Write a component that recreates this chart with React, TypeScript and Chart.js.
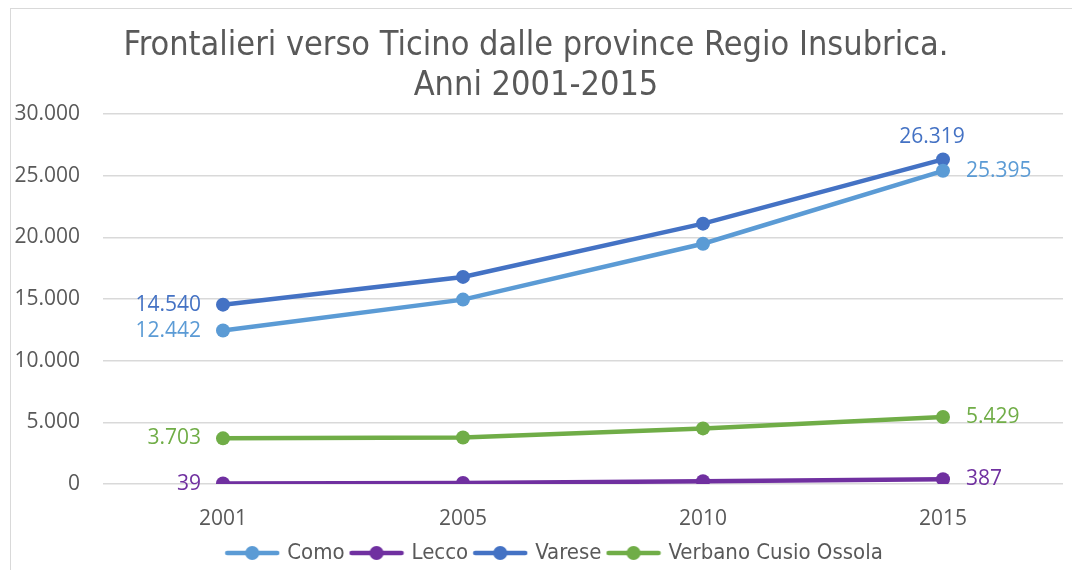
import React, { useEffect, useRef } from "react";
import { Chart, registerables } from "chart.js";

Chart.register(...registerables);

const years = ["2001", "2005", "2010", "2015"];
const seriesNames = ["Como", "Lecco", "Varese", "Verbano Cusio Ossola"];
const como = [12442, 14950, 19480, 25395];
const lecco = [39, 90, 220, 387];
const varese = [14540, 16790, 21110, 26319];
const vco = [3703, 3775, 4510, 5429];
const yTicks = [0, 5000, 10000, 15000, 20000, 25000, 30000];
const colors = ["#5B9BD5", "#7030A0", "#4472C4", "#70AD47"];
const titleLines = ["Frontalieri verso Ticino dalle province Regio Insubrica.", "Anni 2001-2015"];
// where the end labels go: [first point, last point]
const labelPlacement = [
  ["left", "right"],
  ["left", "right"],
  ["left", "top"],
  ["left", "right"],
];

const fmt = (v: number) =>
  String(Math.round(v)).replace(/\B(?=(\d{3})+(?!\d))/g, ".");

const narrowFont = '"Liberation Sans Narrow", "DejaVu Sans Condensed", "Arial Narrow", sans-serif';
const tickFont = '"Open Sans", "Noto Sans", sans-serif';

function makeLegendImg(color: string) {
  const c = document.createElement("canvas");
  c.width = 56;
  c.height = 16;
  const g = c.getContext("2d")!;
  g.strokeStyle = color;
  g.lineWidth = 4.5;
  g.lineCap = "round";
  g.beginPath();
  g.moveTo(3, 8);
  g.lineTo(53, 8);
  g.stroke();
  g.fillStyle = color;
  g.beginPath();
  g.arc(28, 8, 7, 0, Math.PI * 2);
  g.fill();
  return c;
}

// Title drawn centred on the full canvas width, and y tick labels drawn
// from the y scale (so they may extend left of the layout padding)
const textPlugin = {
  id: "titleAndYLabels",
  afterDraw(chart: any) {
    const ctx = chart.ctx;
    ctx.save();
    ctx.font = `34px ${narrowFont}`;
    ctx.fillStyle = "#595959";
    ctx.textAlign = "center";
    ctx.textBaseline = "middle";
    titleLines.forEach((t, i) => {
      ctx.fillText(t, 536, 46 + i * 40);
    });
    const ys = chart.scales.y;
    ctx.font = `21px ${tickFont}`;
    ctx.textAlign = "right";
    yTicks.forEach((v) => {
      ctx.fillText(fmt(v), chart.chartArea.left - 23, ys.getPixelForValue(v));
    });
    ctx.restore();
  },
};

const endLabels = {
  id: "endLabels",
  afterDatasetsDraw(chart: any) {
    const ctx = chart.ctx;
    ctx.save();
    ctx.font = `21px ${tickFont}`;
    chart.data.datasets.forEach((ds: any, i: number) => {
      const meta = chart.getDatasetMeta(i);
      const n = meta.data.length;
      [0, n - 1].forEach((idx, k) => {
        const pt = meta.data[idx];
        const pos = labelPlacement[i][k];
        const text = fmt(ds.data[idx]);
        ctx.fillStyle = colors[i];
        ctx.textBaseline = "middle";
        if (pos === "left") {
          ctx.textAlign = "right";
          ctx.fillText(text, pt.x - 22, pt.y);
        } else if (pos === "right") {
          ctx.textAlign = "left";
          ctx.fillText(text, pt.x + 23, pt.y);
        } else {
          ctx.textAlign = "center";
          ctx.fillText(text, pt.x - 11, pt.y - 22);
        }
      });
    });
    ctx.restore();
  },
};

export default function App() {
  const ref = useRef<HTMLCanvasElement>(null);
  useEffect(() => {
    const imgs = colors.map(makeLegendImg);
    const values = [como, lecco, varese, vco];
    const chart = new Chart(ref.current!, {
      type: "line",
      data: {
        labels: years,
        datasets: seriesNames.map((name, i) => ({
          label: name,
          data: values[i],
          borderColor: colors[i],
          backgroundColor: colors[i],
          borderWidth: 4.5,
          pointRadius: 7,
          pointHoverRadius: 7,
          pointBorderWidth: 0,
          pointBackgroundColor: colors[i],
          tension: 0,
        })),
      },
      options: {
        animation: false,
        responsive: true,
        maintainAspectRatio: false,
        layout: { padding: { left: 48, right: 9, top: 114, bottom: 0 } },
        plugins: {
          title: { display: false },
          legend: {
            position: "bottom",
            labels: {
              usePointStyle: true,
              pointStyleWidth: 48,
              color: "#595959",
              font: { family: narrowFont, size: 22 },
              padding: 8,
              generateLabels(chart: any) {
                const items = Chart.defaults.plugins.legend.labels.generateLabels(chart);
                items.forEach((it: any, i: number) => {
                  it.pointStyle = imgs[i];
                });
                return items;
              },
            },
          },
          tooltip: { enabled: false },
        },
        scales: {
          x: {
            offset: true,
            grid: { display: false, drawTicks: false },
            border: { display: false },
            ticks: { color: "#595959", font: { family: tickFont, size: 21 }, padding: 22 },
            afterFit(scale: any) {
              scale.height = 50;
            },
          },
          y: {
            min: 0,
            max: 30000,
            afterBuildTicks(scale: any) {
              scale.ticks = yTicks.map((v) => ({ value: v }));
            },
            afterFit(scale: any) {
              scale.width = 55;
            },
            grid: { color: "#d9d9d9", lineWidth: 1.5, drawTicks: false },
            border: { display: false },
            ticks: { display: false },
          },
        },
      },
      plugins: [endLabels, textPlugin],
    });
    return () => chart.destroy();
  }, []);
  return (
    <div style={{ position: "fixed", left: 0, top: 0, width: 1072, height: 570, background: "#fff", overflow: "hidden" }}>
      <div
        style={{
          position: "absolute",
          left: 10,
          top: 8,
          right: -2,
          bottom: -2,
          borderLeft: "1px solid #d9d9d9",
          borderTop: "1px solid #d9d9d9",
        }}
      />
      <div style={{ position: "absolute", left: 0, top: 0, width: 1072, height: 574 }}>
        <canvas ref={ref} />
      </div>
    </div>
  );
}
